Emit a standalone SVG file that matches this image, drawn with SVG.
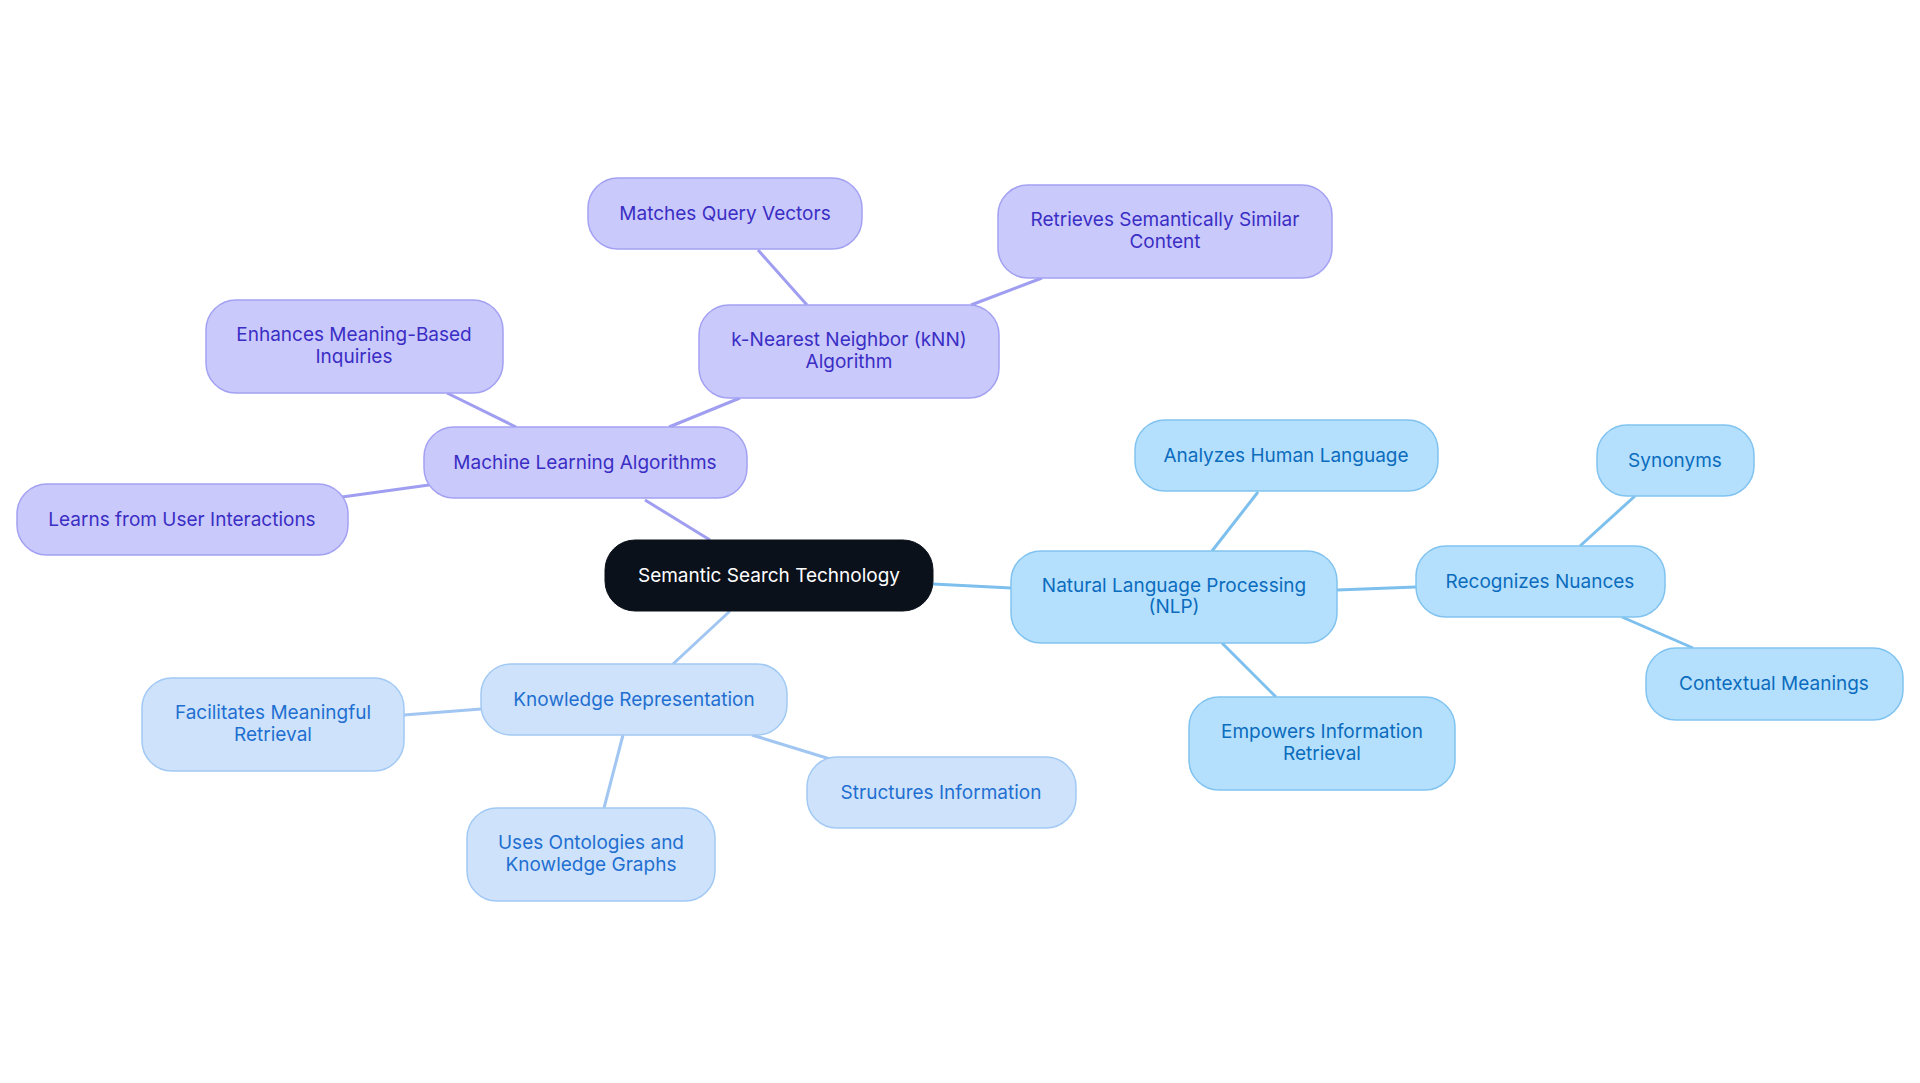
<svg xmlns="http://www.w3.org/2000/svg" width="1920" height="1083" viewBox="0 0 1920 1083">
<style>
text{font-family:Inter,"Noto Sans",sans-serif;font-size:19px;text-anchor:middle;dominant-baseline:central}
.p rect{fill:#cac9fc;stroke:#a3a1f2;stroke-width:1.5}.p text{fill:#3a2ec4}
.b rect{fill:#b5e0fd;stroke:#80c3f0;stroke-width:1.5}.b text{fill:#0b6cbd}
.k rect{fill:#cee3fb;stroke:#a2c9f4;stroke-width:1.5}.k text{fill:#1f6fd1}
#edges line{stroke-width:3;fill:none}
.ep{stroke:#9f9ef1}.eb{stroke:#7dc0ee}.ek{stroke:#a0c6f1}
</style>
<rect width="1920" height="1083" fill="#fff"/>
<g id="edges">
<line class="ep" x1="645" y1="500" x2="710" y2="540"/>
<line class="ep" x1="669" y1="427" x2="740" y2="398"/>
<line class="ep" x1="807" y1="305" x2="758" y2="250"/>
<line class="ep" x1="971" y1="305" x2="1042" y2="278"/>
<line class="ep" x1="516" y1="427" x2="447" y2="393"/>
<line class="ep" x1="429" y1="485" x2="342" y2="497"/>
<line class="eb" x1="933" y1="584" x2="1011" y2="588"/>
<line class="eb" x1="1212" y1="551" x2="1258" y2="492"/>
<line class="eb" x1="1337" y1="590" x2="1416" y2="587"/>
<line class="eb" x1="1580" y1="546" x2="1635" y2="496"/>
<line class="eb" x1="1622" y1="617" x2="1693" y2="648"/>
<line class="eb" x1="1222" y1="643" x2="1276" y2="697"/>
<line class="ek" x1="730" y1="611" x2="673" y2="664"/>
<line class="ek" x1="481" y1="709" x2="404" y2="715"/>
<line class="ek" x1="623" y1="735" x2="604" y2="808"/>
<line class="ek" x1="752" y1="735" x2="830" y2="759"/>
</g>
<g id="center"><rect x="605" y="540" width="328" height="71" rx="30" fill="#0b111b" stroke="#0b111b"/><text x="769" y="575" fill="#fff">Semantic Search Technology</text></g>
<g id="ml" class="p"><rect x="424" y="427" width="323" height="71" rx="30"/><text x="585" y="462">Machine Learning Algorithms</text></g>
<g id="learns" class="p"><rect x="17" y="484" width="331" height="71" rx="30"/><text x="182" y="519">Learns from User Interactions</text></g>
<g id="enhances" class="p"><rect x="206" y="300" width="297" height="93" rx="30"/><text x="354" y="334">Enhances Meaning-Based</text><text x="354" y="356">Inquiries</text></g>
<g id="knn" class="p"><rect x="699" y="305" width="300" height="93" rx="30"/><text x="849" y="339">k-Nearest Neighbor (kNN)</text><text x="849" y="361">Algorithm</text></g>
<g id="matches" class="p"><rect x="588" y="178" width="274" height="71" rx="30"/><text x="725" y="213">Matches Query Vectors</text></g>
<g id="retrieves" class="p"><rect x="998" y="185" width="334" height="93" rx="30"/><text x="1165" y="219">Retrieves Semantically Similar</text><text x="1165" y="241">Content</text></g>
<g id="nlp" class="b"><rect x="1011" y="551" width="326" height="92" rx="30"/><text x="1174" y="585">Natural Language Processing</text><text x="1174" y="606">(NLP)</text></g>
<g id="analyzes" class="b"><rect x="1135" y="420" width="303" height="71" rx="30"/><text x="1286" y="455">Analyzes Human Language</text></g>
<g id="nuances" class="b"><rect x="1416" y="546" width="249" height="71" rx="30"/><text x="1540" y="581">Recognizes Nuances</text></g>
<g id="synonyms" class="b"><rect x="1597" y="425" width="157" height="71" rx="30"/><text x="1675" y="460">Synonyms</text></g>
<g id="contextual" class="b"><rect x="1646" y="648" width="257" height="72" rx="30"/><text x="1774" y="683">Contextual Meanings</text></g>
<g id="empowers" class="b"><rect x="1189" y="697" width="266" height="93" rx="30"/><text x="1322" y="731">Empowers Information</text><text x="1322" y="753">Retrieval</text></g>
<g id="kr" class="k"><rect x="481" y="664" width="306" height="71" rx="30"/><text x="634" y="699">Knowledge Representation</text></g>
<g id="facilitates" class="k"><rect x="142" y="678" width="262" height="93" rx="30"/><text x="273" y="712">Facilitates Meaningful</text><text x="273" y="734">Retrieval</text></g>
<g id="uses" class="k"><rect x="467" y="808" width="248" height="93" rx="30"/><text x="591" y="842">Uses Ontologies and</text><text x="591" y="864">Knowledge Graphs</text></g>
<g id="structures" class="k"><rect x="807" y="757" width="269" height="71" rx="30"/><text x="941" y="792">Structures Information</text></g>
</svg>
